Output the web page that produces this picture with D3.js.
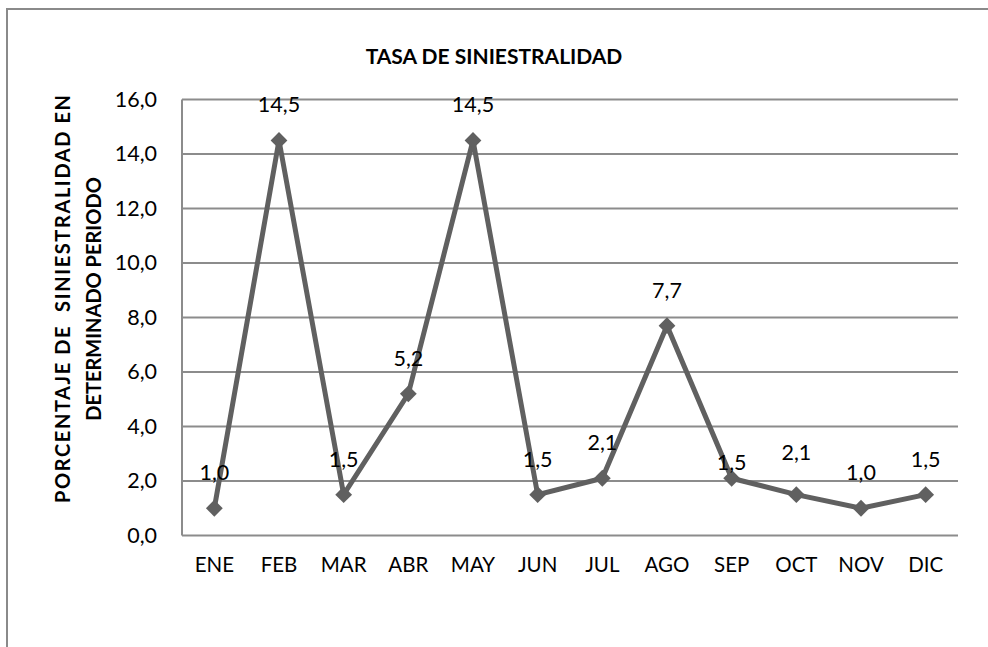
<!DOCTYPE html>
<html>
<head>
<meta charset="utf-8">
<script src="https://cdn.jsdelivr.net/npm/d3@7"></script>
<style>
  body { margin: 0; background: #fff; }
  svg { display: block; }
</style>
</head>
<body>
<div class="chart"></div>
<script>
// datos
var months = ["ENE","FEB","MAR","ABR","MAY","JUN","JUL","AGO","SEP","OCT","NOV","DIC"]
var tasa = [1.0, 14.5, 1.5, 5.2, 14.5, 1.5, 2.1, 7.7, 2.1, 1.5, 1.0, 1.5]
// etiquetas tal como aparecen en el grafico
var etiquetas = ["1,0","14,5","1,5","5,2","14,5","1,5","2,1","7,7","1,5","2,1","1,0","1,5"]
var yTicks = [0, 2, 4, 6, 8, 10, 12, 14, 16]

var width = 988, height = 647
var font = "Lato, 'Open Sans', sans-serif"

var svg = d3.select(".chart")
    .append("svg")
    .attr("width", width)
    .attr("height", height)

// marco
svg.append("rect")
    .attr("x", 7)
    .attr("y", 9)
    .attr("width", 1000)
    .attr("height", 700)
    .style("fill", "none")
    .style("stroke", "#8a8a8a")
    .style("stroke-width", 2)

var plotLeft = 182, plotRight = 958, plotTop = 99.5, plotBottom = 535.5

var x = d3.scaleBand()
    .domain(months)
    .range([plotLeft, plotRight])

var y = d3.scaleLinear()
    .domain([0, 16])
    .range([plotBottom, plotTop])

// rejilla
svg.selectAll(".grid")
    .data(yTicks)
    .enter()
    .append("line")
    .attr("x1", plotLeft)
    .attr("x2", plotRight)
    .attr("y1", d => y(d))
    .attr("y2", d => y(d))
    .style("stroke", "#8c8c8c")
    .style("stroke-width", 2)

// eje y
svg.append("line")
    .attr("x1", plotLeft)
    .attr("x2", plotLeft)
    .attr("y1", plotTop)
    .attr("y2", plotBottom)
    .style("stroke", "#8c8c8c")
    .style("stroke-width", 2)

var yAxis = d3.axisLeft(y)
    .tickValues(yTicks)
    .tickSize(0)
    .tickPadding(25)
    .tickFormat(d => d3.format(".1f")(d).replace(".", ","))

svg.append("g")
    .attr("transform", "translate(" + plotLeft + ",0)")
    .call(yAxis)
    .call(g => g.select(".domain").remove())
    .selectAll("text")
    .style("font-family", font)
    .style("font-size", "21.5px")
    .attr("fill", "#000")

var xAxis = d3.axisBottom(x)
    .tickSize(0)
    .tickPadding(22)

svg.append("g")
    .attr("transform", "translate(0," + plotBottom + ")")
    .call(xAxis)
    .call(g => g.select(".domain").remove())
    .selectAll("text")
    .style("font-family", font)
    .style("font-size", "20.5px")
    .attr("fill", "#000")

// titulo
svg.append("text")
    .attr("x", 494)
    .attr("y", 64)
    .attr("text-anchor", "middle")
    .text("TASA DE SINIESTRALIDAD")
    .style("font-family", font)
    .style("font-weight", "bold")
    .style("font-size", "21px")
    .attr("fill", "#000")

// titulo eje y
var yTitle = svg.append("text")
    .attr("transform", "translate(70,299) rotate(-90)")
    .attr("text-anchor", "middle")
    .style("font-family", font)
    .style("font-weight", "bold")
    .style("font-size", "20px")
    .attr("fill", "#000")

yTitle.append("tspan")
    .attr("x", 0)
    .attr("y", 0)
    .attr("xml:space", "preserve")
    .attr("textLength", 408)
    .attr("lengthAdjust", "spacing")
    .text("PORCENTAJE DE  SINIESTRALIDAD EN")

yTitle.append("tspan")
    .attr("x", 0)
    .attr("y", 31)
    .text("DETERMINADO PERIODO")

// linea
var cx = d => x(d) + x.bandwidth() / 2

var line = d3.line()
    .x((d, i) => cx(months[i]))
    .y(d => y(d))

svg.append("path")
    .datum(tasa)
    .attr("d", line)
    .style("fill", "none")
    .style("stroke", "#606060")
    .style("stroke-width", 5)
    .style("stroke-linejoin", "miter")

svg.selectAll(".punto")
    .data(tasa)
    .enter()
    .append("path")
    .attr("d", d3.symbol().type(d3.symbolDiamond2).size(180))
    .attr("transform", (d, i) => "translate(" + cx(months[i]) + "," + y(d) + ")")
    .style("fill", "#606060")

// etiquetas de datos
svg.selectAll(".etiqueta")
    .data(tasa)
    .enter()
    .append("text")
    .attr("x", (d, i) => cx(months[i]))
    .attr("y", (d, i) => y(d) - (i == 8 ? 8 : i == 9 ? 35 : 28))
    .attr("text-anchor", "middle")
    .text((d, i) => etiquetas[i])
    .style("font-family", font)
    .style("font-size", "21.5px")
    .attr("fill", "#000")
</script>
</body>
</html>
